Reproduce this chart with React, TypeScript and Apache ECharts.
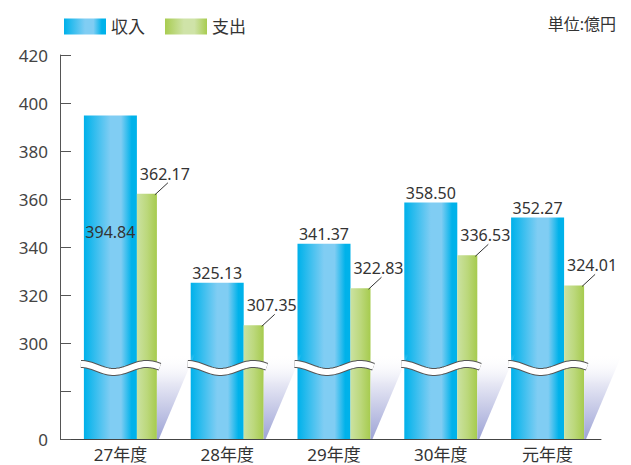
import React, { useEffect, useRef } from "react";
import * as echarts from "echarts";

const CATEGORIES = ["27年度", "28年度", "29年度", "30年度", "元年度"];
const INCOME = [394.84, 325.13, 341.37, 358.5, 352.27];
const EXPENSE = [362.17, 307.35, 322.83, 336.53, 324.01];
const SERIES_NAMES = ["収入", "支出"];
const Y_TICK_LABELS = ["0", "", "300", "320", "340", "360", "380", "400", "420"];
const AXIS_SHIFT = 260; // values above the break are drawn shifted down by this amount
const BREAK_AT = 29.6; // display units where the break wave sits
const UNIT_TEXT = "単位:億円";

const FONT = "'Noto Sans', 'Noto Sans CJK JP', sans-serif";
const TEXT_COLOR = "#333";

const blueGrad = () =>
  new echarts.graphic.LinearGradient(0, 0, 1, 0, [
    { offset: 0, color: "#00b0ea" },
    { offset: 0.08, color: "#12b6ec" },
    { offset: 0.5, color: "#80cdf3" },
    { offset: 0.7, color: "#80cdf3" },
    { offset: 0.9, color: "#00b2ea" },
    { offset: 1, color: "#00b2ea" },
  ]);
const greenGrad = () =>
  new echarts.graphic.LinearGradient(0, 0, 1, 0, [
    { offset: 0, color: "#cbe2a2" },
    { offset: 0.5, color: "#bcd87c" },
    { offset: 1, color: "#a6cb4e" },
  ]);
const greenLegendGrad = () =>
  new echarts.graphic.LinearGradient(0, 0, 1, 0, [
    { offset: 0, color: "#a8cc50" },
    { offset: 0.45, color: "#cfe3a8" },
    { offset: 0.7, color: "#cfe3a8" },
    { offset: 1, color: "#a8cc50" },
  ]);

const BLUE_W = 53;
const GREEN_W = 20;

export default function App() {
  const ref = useRef<HTMLDivElement>(null);
  useEffect(() => {
    document.body.style.margin = "0";
    const chart = echarts.init(ref.current!, null, { renderer: "svg" });
    const incomeDisp = INCOME.map((v) => +(v - AXIS_SHIFT).toFixed(2));
    const expenseDisp = EXPENSE.map((v) => +(v - AXIS_SHIFT).toFixed(2));
    const half = (BLUE_W + GREEN_W) / 2;

    chart.setOption({
      animation: false,
      textStyle: { fontFamily: FONT },
      title: {
        text: UNIT_TEXT,
        right: 10,
        top: 11,
        textStyle: { fontSize: 16, fontWeight: "normal", color: TEXT_COLOR, fontFamily: FONT },
      },
      legend: {
        left: 59,
        top: 13,
        itemWidth: 42,
        itemHeight: 16,
        itemGap: 20,
        icon: "rect",
        textStyle: { fontSize: 17, color: TEXT_COLOR, fontFamily: FONT },
        data: [
          { name: SERIES_NAMES[0], itemStyle: { color: blueGrad() } },
          { name: SERIES_NAMES[1], itemStyle: { color: greenLegendGrad() } },
        ],
      },
      grid: { left: 67, right: 30, top: 55, bottom: 26 },
      xAxis: {
        type: "category",
        data: CATEGORIES,
        axisLine: { lineStyle: { color: "#444", width: 1 } },
        axisTick: { inside: true, length: 9, lineStyle: { color: "#444" }, interval: (i: number) => i > 0 },
        axisLabel: { fontSize: 17, color: TEXT_COLOR, margin: 7, fontFamily: FONT },
      },
      yAxis: {
        type: "value",
        min: 0,
        max: 160,
        interval: 20,
        offset: 7,
        axisLine: { show: true, lineStyle: { color: "#555" } },
        axisTick: { show: true, inside: true, length: 11, lineStyle: { color: "#555" } },
        axisLabel: {
          fontSize: 17,
          color: "#444",
          margin: 12,
          fontFamily: FONT,
          formatter: (v: number) => Y_TICK_LABELS[Math.round(v / 20)] ?? "",
        },
        splitLine: { show: false },
      },
      graphic: [
        {
          type: "line",
          shape: { x1: 60, y1: 439.5, x2: 68, y2: 439.5 },
          style: { stroke: "#444", lineWidth: 1 },
        },
      ],
      series: [
        {
          name: SERIES_NAMES[0],
          type: "bar",
          barWidth: BLUE_W,
          barGap: 0,
          itemStyle: { color: blueGrad() },
          label: {
            show: true,
            position: "top",
            distance: 2,
            fontSize: 16,
            color: TEXT_COLOR,
            fontFamily: FONT,
            formatter: (p: any) => INCOME[p.dataIndex].toFixed(2),
          },
          data: incomeDisp.map((v, i) =>
            i === 0
              ? { value: v, label: { position: "insideTop", distance: 109 } }
              : v
          ),
          z: 2,
        },
        {
          name: SERIES_NAMES[1],
          type: "bar",
          barWidth: GREEN_W,
          barGap: 0,
          itemStyle: { color: greenGrad() },
          label: {
            show: true,
            position: "top",
            distance: 5,
            offset: [18, -7],
            fontSize: 16,
            color: TEXT_COLOR,
            fontFamily: FONT,
            formatter: (p: any) => EXPENSE[p.dataIndex].toFixed(2),
          },
          data: expenseDisp,
          z: 2,
        },
        {
          // leader lines for expense labels
          type: "custom",
          silent: true,
          z: 5,
          data: expenseDisp.map((v, i) => [i, v]),
          encode: { x: 0, y: 1 },
          renderItem: (params: any, api: any) => {
            const p = api.coord([api.value(0), api.value(1)]);
            const right = p[0] + half;
            return {
              type: "line",
              shape: { x1: right - 2, y1: p[1] + 1, x2: right + 11, y2: p[1] - 11 },
              style: { stroke: "#333", lineWidth: 1 },
            };
          },
        },
        {
          // axis-break decoration: perspective shadow + wave
          type: "custom",
          silent: true,
          z: 6,
          data: CATEGORIES.map((_, i) => [i, BREAK_AT]),
          encode: { x: 0, y: 1 },
          renderItem: (params: any, api: any) => {
            const p = api.coord([api.value(0), api.value(1)]);
            const base = api.coord([api.value(0), 0]);
            const cx = p[0];
            const yc = p[1];
            const right = cx + half;
            const pts: number[][] = [];
            const n = 40;
            const x0 = cx - half - 3;
            const x1 = cx + half + 3;
            for (let k = 0; k <= n; k++) {
              const t = k / n;
              pts.push([x0 + (x1 - x0) * t, yc - 4 * Math.cos(2 * Math.PI * 1.2 * t)]);
            }
            return {
              type: "group",
              children: [
                {
                  type: "polygon",
                  shape: {
                    points: [
                      [right, yc - 14],
                      [right + 38, yc - 14],
                      [right + 2, base[1]],
                      [right, base[1]],
                    ],
                  },
                  style: {
                    fill: new echarts.graphic.LinearGradient(0, 0, 0, 1, [
                      { offset: 0, color: "rgba(255,255,255,0)" },
                      { offset: 0.35, color: "#e6e7f4" },
                      { offset: 1, color: "#9ea4d6" },
                    ]),
                  },
                },
                {
                  type: "polyline",
                  shape: { points: pts },
                  style: { stroke: "#555", lineWidth: 8, fill: null },
                },
                {
                  type: "polyline",
                  shape: { points: pts },
                  style: { stroke: "#fff", lineWidth: 6, fill: null },
                },
              ],
            };
          },
        },
      ],
    });
    return () => chart.dispose();
  }, []);
  return <div ref={ref} style={{ width: 631, height: 465 }} />;
}
